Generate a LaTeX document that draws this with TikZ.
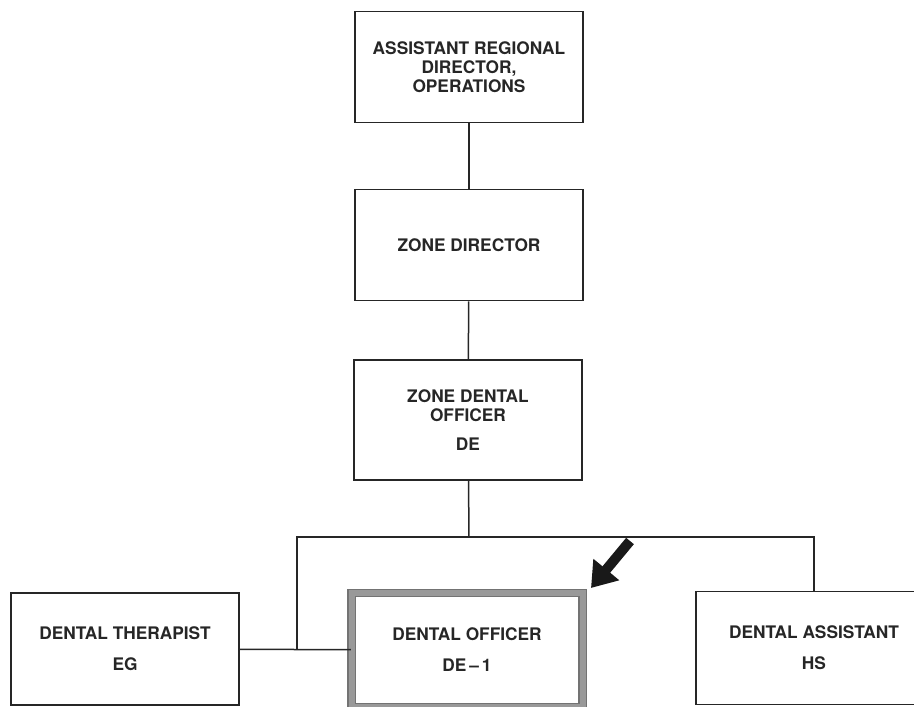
\documentclass[tikz,border=0pt]{standalone}
\usepackage{fontspec}
\setmainfont{TeX Gyre Heros}
\usetikzlibrary{arrows.meta}
\tikzset{
    post/.style={draw=black!85, line width=1.6pt, align=center,
        text=black!85, font=\bfseries\fontsize{17.3}{19}\selectfont},
    chosen/.style={post, draw=black!55, double=black!40, double distance=6pt,
        line width=1.2pt},
    link/.style={draw=black!85, line width=1.5pt},
    pointer/.style={draw=black!90, line width=10pt,
        -{Triangle[length=24pt,width=32pt]}},
}
\begin{document}
\begin{tikzpicture}[x=1pt, y=-1pt]
	\useasboundingbox (0,0) rectangle (914,707);
	\node[post, minimum width=228pt, minimum height=111pt] (ard) at (469,67)
		{ASSISTANT REGIONAL\\DIRECTOR,\\OPERATIONS};
	\node[post, minimum width=228pt, minimum height=111pt] (zd) at (469,245)
		{ZONE DIRECTOR};
	\node[post, minimum width=228pt, minimum height=120pt] (zdo) at (468,420)
		{ZONE DENTAL\\OFFICER\\[10pt]DE};
	\node[post, minimum width=228pt, minimum height=112pt] (dt) at (125,649)
		{DENTAL THERAPIST\\[12pt]EG};
	\node[chosen, minimum width=231pt, minimum height=114pt] (do) at (467,650)
		{DENTAL OFFICER\\[12pt]DE\,--\,1};
	\node[post, minimum width=236pt, minimum height=113pt] (da) at (814,648)
		{DENTAL ASSISTANT\\[12pt]HS};
%
	\coordinate (bus) at (469,537);
	\draw[link] (ard) -- (zd);
	\draw[link] (zd) -- (zdo);
	\draw[link] (zdo) -- (bus);
	\draw[link] (bus) -- (297,537) -- (297,649);
	\draw[link] (bus) -| (da);
	\draw[link] (dt) -- (do);
%
	\coordinate (tail) at (630,541);
	\coordinate (tip) at (591,588);
	\draw[pointer] (tail) -- (tip);
\end{tikzpicture}
\end{document}
